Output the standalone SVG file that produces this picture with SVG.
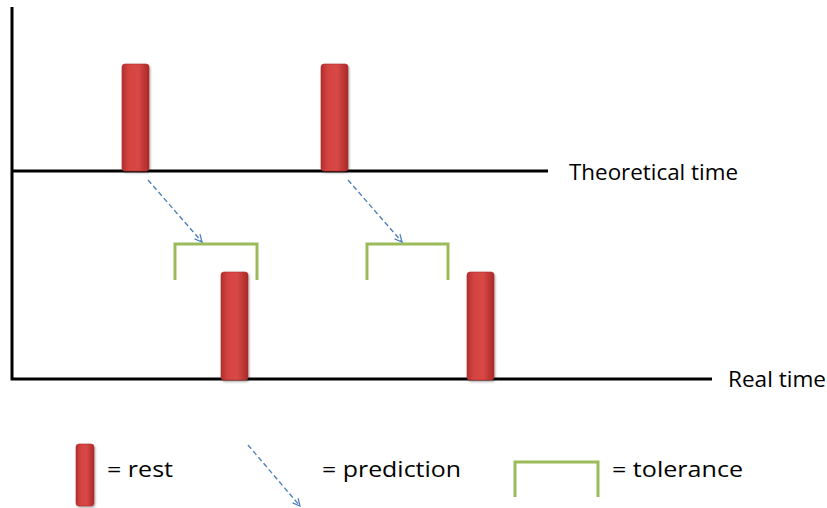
<svg xmlns="http://www.w3.org/2000/svg" width="827" height="508" viewBox="0 0 827 508">
<defs>
<linearGradient id="barGrad" x1="0" y1="0" x2="1" y2="0">
<stop offset="0" stop-color="#b22f2c"/>
<stop offset="0.25" stop-color="#d44341"/>
<stop offset="0.6" stop-color="#d84845"/>
<stop offset="1" stop-color="#a92a28"/>
</linearGradient>
<filter id="shadow" x="-30%" y="-10%" width="160%" height="120%">
<feDropShadow dx="1" dy="1.5" stdDeviation="1.2" flood-color="#000" flood-opacity="0.35"/>
</filter>
<marker id="arrowHead" viewBox="0 0 10 10" refX="9" refY="5" markerWidth="9" markerHeight="9" orient="auto" markerUnits="userSpaceOnUse">
<path d="M1,1 L9,5 L1,9" fill="none" stroke="#4f81bd" stroke-width="1.4"/>
</marker>
</defs>
<style>
.axis{stroke:#000;stroke-width:3;fill:none}
.bar{fill:url(#barGrad);stroke:#b03030;stroke-width:0.6;filter:url(#shadow)}
.pred{stroke:#4f81bd;stroke-width:1.4;stroke-dasharray:5 3;fill:none;marker-end:url(#arrowHead)}
.tol{stroke:#9bbb59;stroke-width:3;fill:none}
.lbl{font-family:"Open Sans","Liberation Sans",Arial,sans-serif;font-size:22px;fill:#000}
</style>
<rect width="827" height="508" fill="#fff"/>
<g id="axes">
<path class="axis" d="M12,7 V379 H712"/>
<path class="axis" d="M12,171 H548"/>
</g>
<g id="labels">
<text class="lbl" x="569" y="180" textLength="169" lengthAdjust="spacingAndGlyphs">Theoretical time</text>
<text class="lbl" x="728" y="387" textLength="98" lengthAdjust="spacingAndGlyphs">Real time</text>
</g>
<g id="rest1"><rect class="bar" x="122" y="64" width="27" height="107" rx="3"/></g>
<g id="rest2"><rect class="bar" x="321" y="64" width="27" height="107" rx="3"/></g>
<g id="rest3"><rect class="bar" x="221" y="272" width="27" height="108" rx="3"/></g>
<g id="rest4"><rect class="bar" x="467" y="272" width="27" height="108" rx="3"/></g>
<g id="tolerance1"><path class="tol" d="M175,280 V244 H257 V280"/></g>
<g id="tolerance2"><path class="tol" d="M367,280 V244 H448 V280"/></g>
<g id="connectors">
<line class="pred" x1="148" y1="180" x2="202" y2="242"/>
<line class="pred" x1="348" y1="180" x2="402" y2="242"/>
</g>
<g id="legend">
<rect class="bar" x="76" y="444" width="18" height="62" rx="3"/>
<text class="lbl" x="107" y="477" textLength="66" lengthAdjust="spacingAndGlyphs">= rest</text>
<line class="pred" x1="248" y1="445" x2="300" y2="506"/>
<text class="lbl" x="322" y="477" textLength="139" lengthAdjust="spacingAndGlyphs">= prediction</text>
<path class="tol" d="M515,497 V462 H598 V497"/>
<text class="lbl" x="612" y="477" textLength="131" lengthAdjust="spacingAndGlyphs">= tolerance</text>
</g>
</svg>
